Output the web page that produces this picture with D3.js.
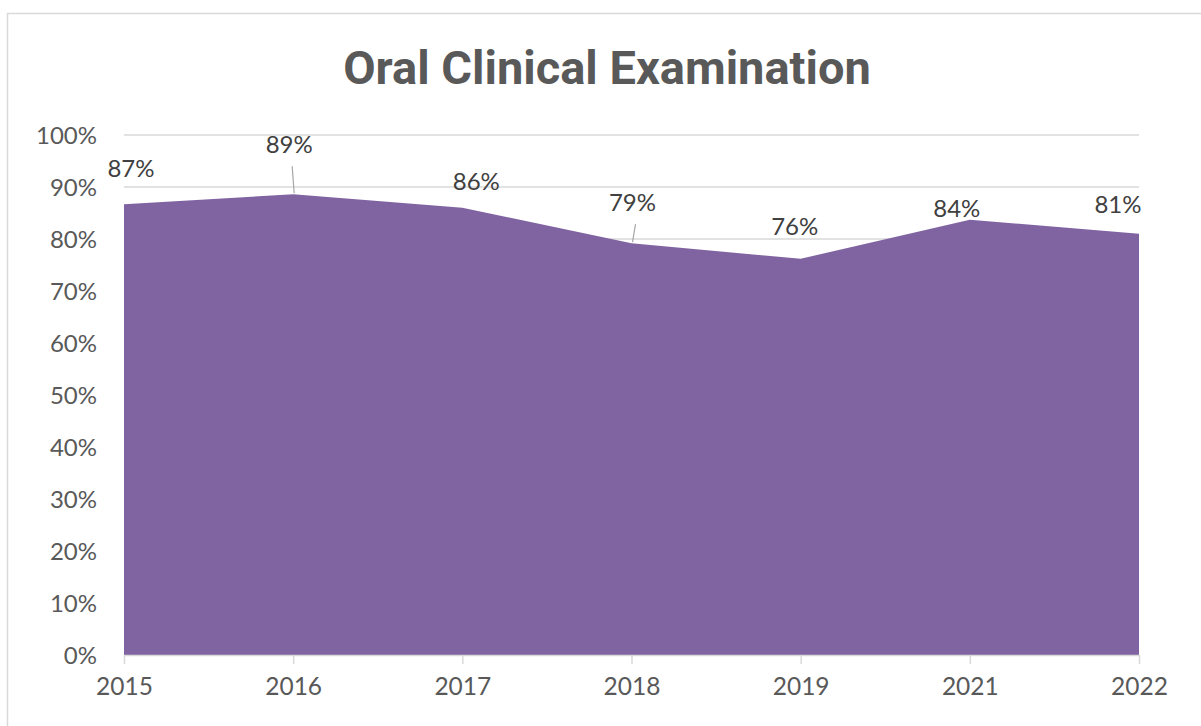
<!DOCTYPE html>
<html>
<head>
<meta charset="utf-8">
<script src="https://cdn.jsdelivr.net/npm/d3@7"></script>
<style>
  html, body { margin: 0; padding: 0; background: #fff; }
  svg { display: block; }
</style>
</head>
<body>
<script>
// ---- data ----
const title = "Oral Clinical Examination";
const categories = ["2015", "2016", "2017", "2018", "2019", "2021", "2022"];
const values = [0.867, 0.886, 0.860, 0.792, 0.762, 0.837, 0.810];
const yTicks = [0, 0.1, 0.2, 0.3, 0.4, 0.5, 0.6, 0.7, 0.8, 0.9, 1.0];
// label placement offsets (px) relative to the data point, and whether a leader line is drawn
const labelDx = [7, -4, 14, 1, -6, -13, -21];
const labelDy = [-36, -50, -26, -41, -32, -11, -29];
const leader = [false, true, false, true, false, false, false];

// ---- layout ----
const W = 1201, H = 726;
const plot = { left: 124, right: 1139, top: 135, bottom: 655 };
const fillColor = "#8064a2";
const gridColor = "#d9d9d9";
const textColor = "#595959";
const labelColor = "#404040";
const font = "Lato, 'Open Sans', sans-serif";

const svg = d3.select("body").append("svg")
  .attr("width", W).attr("height", H);

svg.append("rect").attr("width", W).attr("height", H).attr("fill", "#fff");
// chart border (extends past the visible area on right/bottom)
svg.append("rect")
  .attr("x", 7.5).attr("y", 13.5)
  .attr("width", 1300).attr("height", 900)
  .attr("fill", "none").attr("stroke", gridColor).attr("stroke-width", 1.5);

const x = d3.scalePoint().domain(categories).range([plot.left, plot.right]);
const y = d3.scaleLinear().domain([0, 1]).range([plot.bottom, plot.top]);

// gridlines
svg.append("g").selectAll("line").data(yTicks.slice(1)).join("line")
  .attr("x1", plot.left).attr("x2", plot.right)
  .attr("y1", d => y(d)).attr("y2", d => y(d))
  .attr("stroke", gridColor).attr("stroke-width", 1.5);

// area
const area = d3.area()
  .x((d, i) => x(categories[i]))
  .y0(y(0))
  .y1(d => y(d));
svg.append("path").datum(values)
  .attr("d", area)
  .attr("fill", fillColor);

// y axis (no line)
const yAxis = d3.axisLeft(y).tickValues(yTicks).tickFormat(d3.format(".0%")).tickSize(0).tickPadding(27);
const gy = svg.append("g").attr("transform", `translate(${plot.left},0)`).call(yAxis);
gy.select(".domain").remove();
gy.selectAll("text")
  .attr("fill", textColor).attr("font-family", font).attr("font-size", 24)
  .attr("dy", "0.36em");

// x axis
const xAxis = d3.axisBottom(x).tickSize(9).tickPadding(14).tickSizeOuter(0);
const gx = svg.append("g").attr("transform", `translate(0,${plot.bottom})`).call(xAxis);
gx.select(".domain").attr("stroke", gridColor).attr("stroke-width", 1.5);
gx.selectAll(".tick line").attr("stroke", gridColor).attr("stroke-width", 1.5);
gx.selectAll("text")
  .attr("fill", textColor).attr("font-family", font).attr("font-size", 24.5);

// data labels
const fmt = d3.format(".0%");
const lbl = svg.append("g");
values.forEach((v, i) => {
  const px = x(categories[i]), py = y(v);
  const lx = px + labelDx[i], ly = py + labelDy[i];
  if (leader[i]) {
    lbl.append("line")
      .attr("x1", lx + 3).attr("y1", ly + 22)
      .attr("x2", px + 1).attr("y2", py - 1)
      .attr("stroke", "#a6a6a6").attr("stroke-width", 1.2);
  }
  lbl.append("text")
    .attr("x", lx).attr("y", ly)
    .attr("dy", "0.36em")
    .attr("text-anchor", "middle")
    .attr("fill", labelColor)
    .attr("font-family", font).attr("font-size", 24)
    .text(fmt(v));
});

// title
svg.append("text")
  .attr("x", 607).attr("y", 84)
  .attr("text-anchor", "middle")
  .attr("fill", textColor)
  .attr("font-family", "Roboto, sans-serif")
  .attr("font-weight", "bold")
  .attr("font-size", 47)
  .text(title);
</script>
</body>
</html>
